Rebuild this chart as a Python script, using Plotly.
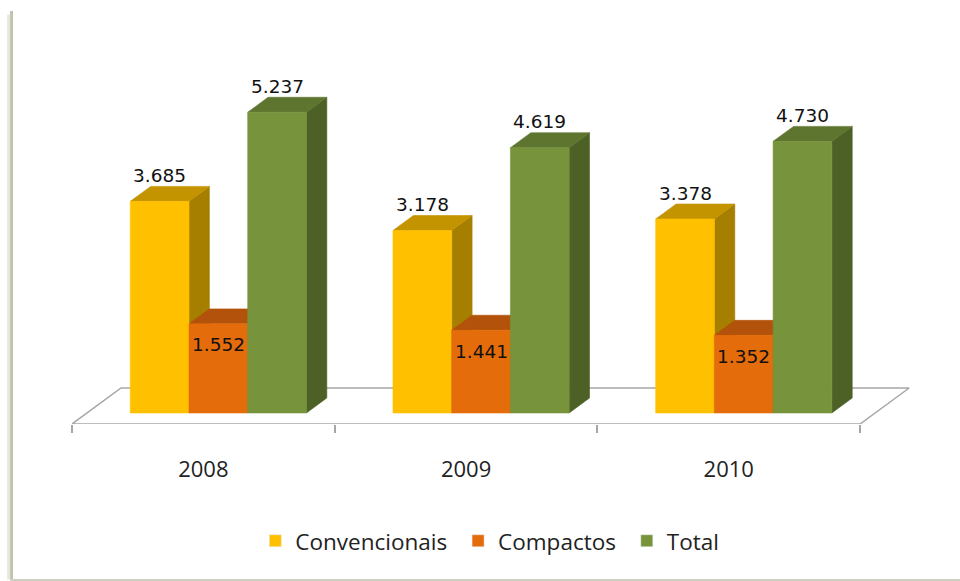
import plotly.graph_objects as go

# ---------------- data ----------------
years = ["2008", "2009", "2010"]
series_names = ["Convencionais", "Compactos", "Total"]
convencionais = [3685, 3178, 3378]
compactos = [1552, 1441, 1352]
total = [5237, 4619, 4730]
series_values = [convencionais, compactos, total]

# ---------------- style ----------------
front_colors = ["#FFC000", "#E46C0A", "#77933C"]
top_colors = ["#C49400", "#B3520A", "#5E7530"]
side_colors = ["#A67F00", "#9A4506", "#4D6127"]
legend_pad = ["\u00a0", "\u00a0", ""]

W = 0.2235      # bar width (category units)
KX = 0.1866     # floor depth projected on x (category units)
KY = 627.0      # floor depth projected on y (value units)
Z0, Z1 = 0.306, 0.722   # bar front/back depth fraction
LABEL_SHIFT = [26, -21, 26]


def fmt(v):
    return f"{v:,}".replace(",", ".")


fig = go.Figure()

# floor
fx = [-0.5, 2.5, 2.5 + KX, -0.5 + KX, -0.5]
fy = [0, 0, KY, KY, 0]
fig.add_trace(go.Scatter(x=fx, y=fy, mode="lines", fill="toself",
                         fillcolor="white", line=dict(color="#A6A6A6", width=1.5),
                         showlegend=False, hoverinfo="skip"))

annotations = []
dz = Z1 - Z0
dx, dy = dz * KX, dz * KY
yb = Z0 * KY
for i, yr in enumerate(years):
    for s, name in enumerate(series_names):
        v = series_values[s][i]
        xl = i - 1.5 * W + s * W + Z0 * KX
        xr = xl + W
        yt = yb + v
        side_x = [xr, xr + dx, xr + dx, xr, xr]
        side_y = [yb, yb + dy, yt + dy, yt, yb]
        top_x = [xl, xr, xr + dx, xl + dx, xl]
        top_y = [yt, yt, yt + dy, yt + dy, yt]
        front_x = [xl, xr, xr, xl, xl]
        front_y = [yb, yb, yt, yt, yb]
        for px, py, col in ((side_x, side_y, side_colors[s]),
                            (top_x, top_y, top_colors[s]),
                            (front_x, front_y, front_colors[s])):
            fig.add_trace(go.Scatter(x=px, y=py, mode="lines", fill="toself",
                                     fillcolor=col, line=dict(color=col, width=0.6),
                                     showlegend=False, name=name,
                                     hovertemplate=f"{name} {yr}: {fmt(v)}<extra></extra>"))
        annotations.append(dict(x=(xl + xr) / 2, y=yt, xref="x", yref="y",
                                text=fmt(v), showarrow=False, yshift=LABEL_SHIFT[s],
                                font=dict(family="DejaVu Sans", size=18.5, color="#111111")))

# legend entries
for s, name in enumerate(series_names):
    fig.add_trace(go.Bar(x=[None], y=[None], name=name + legend_pad[s],
                         marker=dict(color=front_colors[s])))

# frame decorations (left and bottom border)
shapes = [
    dict(type="line", xref="paper", yref="paper", x0=-0.0705, x1=-0.0705,
         y0=-0.41, y1=1.09, line=dict(color="#BFC4AE", width=3)),
    dict(type="line", xref="paper", yref="paper", x0=-0.0738, x1=-0.0738,
         y0=-0.41, y1=1.08, line=dict(color="#E6E8DE", width=3)),
    dict(type="line", xref="paper", yref="paper", x0=-0.072, x1=1.05,
         y0=-0.4115, y1=-0.4115, line=dict(color="#CDD0C0", width=2)),
]

fig.update_layout(
    width=960, height=581,
    margin=dict(l=72, r=30, t=45, b=157),
    paper_bgcolor="white", plot_bgcolor="white",
    xaxis=dict(range=[-0.5, 2.766], tickvals=[0, 1, 2], ticktext=years,
               showgrid=False, zeroline=False, showline=False, ticks="",
               ticklabelstandoff=30,
               tickfont=dict(family="Open Sans", size=22, color="#222222"),
               minor=dict(tickvals=[-0.5, 0.5, 1.5, 2.5], ticks="outside",
                          ticklen=8, tickcolor="#A6A6A6", tickwidth=1.5,
                          showgrid=False),
               fixedrange=True),
    yaxis=dict(range=[0, 6600], visible=False, fixedrange=True),
    legend=dict(orientation="h", x=0.487, xanchor="center", y=-0.309, yanchor="middle",
                font=dict(family="Open Sans", size=22.5, color="#222222"),
                itemclick=False),
    annotations=annotations,
    shapes=shapes,
    showlegend=True,
)

fig.write_html("out.html", config={"displayModeBar": False},
               post_script="document.body.style.margin='0px';")
